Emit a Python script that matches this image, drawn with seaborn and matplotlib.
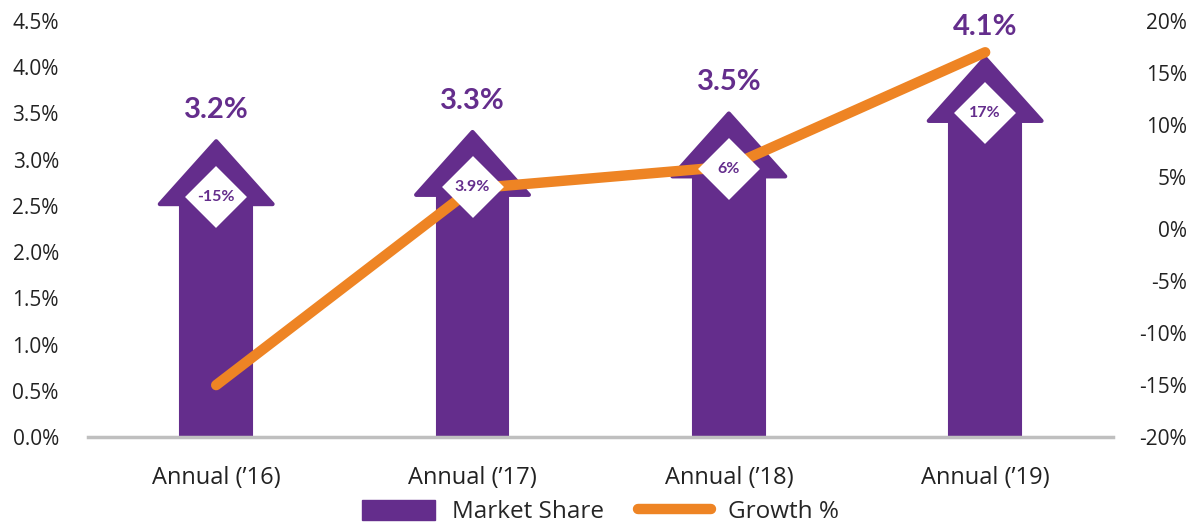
import matplotlib
matplotlib.use("Agg")
import matplotlib.pyplot as plt
import seaborn as sns
import pandas as pd
from matplotlib.patches import Patch
from matplotlib.lines import Line2D

# data
periods = ["Annual (’16)", "Annual (’17)", "Annual (’18)", "Annual (’19)"]
market_share = [3.2, 3.3, 3.5, 4.1]
growth = [-15, 3.9, 6, 17]
growth_labels = ["-15%", "3.9%", "6%", "17%"]

purple = "#642D8C"
orange = "#EE8424"
text_col = "#222222"

sns.set_theme(style="white")
plt.rcParams["font.family"] = ["Open Sans", "DejaVu Sans"]

df = pd.DataFrame({"period": periods, "share": market_share, "growth": growth})

fig = plt.figure(figsize=(12.01, 5.26), dpi=100)
ax = fig.add_axes([0.0733, 0.169, 0.8537, 0.791])

head_len = 0.68   # arrowhead height in % units
shaft_w = 0.28
head_w = 0.44

# arrow shafts
df["shaft"] = df["share"] - head_len + 0.02
sns.barplot(data=df, x="period", y="shaft", color=purple, width=shaft_w,
            saturation=1, ax=ax)
for p in ax.patches:
    p.set_edgecolor(purple)
    p.set_linewidth(1.5)
    p.set_joinstyle("round")

# arrow heads + value labels
for i, v in enumerate(market_share):
    ax.fill([i - head_w / 2, i, i + head_w / 2], [v - head_len, v, v - head_len],
            color=purple, lw=3, joinstyle="round", zorder=3)
    ax.annotate(f"{v:.1f}%", (i, v), xytext=(0, 13), textcoords="offset points",
                ha="center", va="bottom", fontsize=21, fontweight="bold", color=purple,
                family=["Lato", "DejaVu Sans"])

ax.set_xlim(-0.5, 3.5)
ax.set_ylim(0, 4.5)
ax.set_yticks([x / 2 for x in range(10)])
ax.set_yticklabels([f"{x / 2:.1f}%" for x in range(10)], fontsize=15, color=text_col)
ax.set_xlabel("")
ax.set_ylabel("")
ax.tick_params(axis="x", labelsize=17, colors=text_col, pad=21, length=0)
ax.tick_params(axis="y", length=0, pad=21)
for s in ["top", "right", "left"]:
    ax.spines[s].set_visible(False)
ax.spines["bottom"].set_color("#BFBFBF")
ax.spines["bottom"].set_linewidth(2.5)

# growth line on the secondary axis
ax2 = ax.twinx()
sns.lineplot(data=df, x="period", y="growth", color=orange, linewidth=7.5,
             solid_capstyle="round", ax=ax2, zorder=4)
ax2.set_ylim(-20, 20)
ax2.set_yticks(range(-20, 21, 5))
ax2.set_yticklabels([f"{t}%" for t in range(-20, 21, 5)], fontsize=15, color=text_col,
                    ha="right")
ax2.set_ylabel("")
ax2.set_xlabel("")
ax2.tick_params(axis="y", length=0, pad=53)
for s in ax2.spines.values():
    s.set_visible(False)
ax2.set_xlim(-0.5, 3.5)

# white diamonds with growth values on the arrowheads (above the line)
for i, (v, lab) in enumerate(zip(market_share, growth_labels)):
    y = v - 0.6
    ax2.plot(i, y, marker="D", markersize=29, color="white", markeredgecolor="white",
             markeredgewidth=3, zorder=5, transform=ax.transData)
    ax2.text(i, y, lab, ha="center", va="center", fontsize=11.5, fontweight="bold",
             color=purple, zorder=6, transform=ax.transData,
             family=["Lato", "DejaVu Sans"])

handles = [Patch(facecolor=purple, edgecolor=purple),
           Line2D([0], [0], color=orange, lw=7.5, solid_capstyle="round")]
fig.legend(handles, ["Market Share", "Growth %"], loc="center", bbox_to_anchor=(0.5, 0.026),
           ncol=2, frameon=False, fontsize=17.5, handlelength=3.0, handleheight=0.85,
           columnspacing=1.4, handletextpad=0.7)

fig.savefig("out.png", dpi=100)
